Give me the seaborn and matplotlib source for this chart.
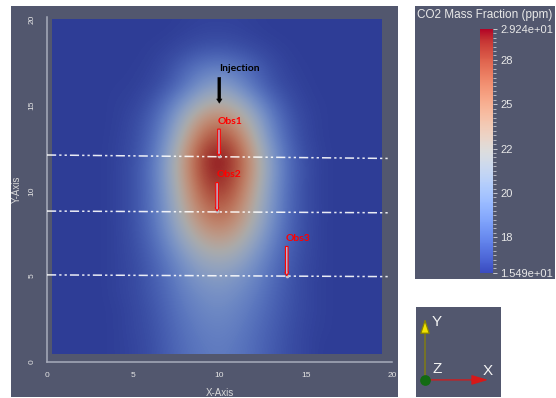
import numpy as np
import pandas as pd
import matplotlib
matplotlib.use("Agg")
import matplotlib.pyplot as plt
from matplotlib.colors import ListedColormap, Normalize
from matplotlib.patches import Rectangle, FancyArrowPatch
from matplotlib.ticker import MultipleLocator
import seaborn as sns

sns.set_theme(style="white")
plt.rcParams["font.family"] = ["Liberation Sans", "DejaVu Sans"]

# CO2 mass fraction (ppm), one row per y = 0..20,
# columns are x = 4..16 ; outside that strip the field sits at the background value
field_bg = 15.6
field_cols = np.arange(4, 17)
co2_rows = [
    [15.7, 15.9, 16.3, 16.9, 17.6, 18.1, 18.3, 18.0, 17.5, 16.8, 16.3, 15.9, 15.6],  # y=0
    [15.7, 15.9, 16.3, 17.0, 17.7, 18.2, 18.4, 18.1, 17.5, 16.9, 16.3, 15.9, 15.6],  # y=1
    [15.7, 16.0, 16.4, 17.1, 17.9, 18.5, 18.7, 18.4, 17.7, 17.0, 16.4, 15.9, 15.7],  # y=2
    [15.7, 16.0, 16.5, 17.3, 18.2, 18.85, 19.1, 18.7, 18.0, 17.2, 16.5, 16.0, 15.7],  # y=3
    [15.8, 16.1, 16.7, 17.5, 18.6, 19.3, 19.6, 19.2, 18.4, 17.4, 16.6, 16.0, 15.7],  # y=4
    [15.8, 16.1, 16.8, 17.8, 19.1, 20.1, 20.4, 19.9, 18.9, 17.7, 16.7, 16.0, 15.7],  # y=5
    [15.8, 16.2, 17.0, 18.3, 19.9, 21.3, 21.8, 21.2, 19.7, 18.1, 16.9, 16.1, 15.7],  # y=6
    [15.8, 16.3, 17.3, 19.0, 21.1, 22.9, 23.6, 22.8, 20.8, 18.7, 17.1, 16.2, 15.7],  # y=7
    [15.8, 16.4, 17.6, 19.6, 22.3, 24.6, 25.5, 24.4, 21.9, 19.3, 17.3, 16.2, 15.7],  # y=8
    [15.8, 16.4, 17.7, 20.0, 23.2, 25.9, 27.0, 25.6, 22.7, 19.7, 17.4, 16.3, 15.7],  # y=9
    [15.8, 16.4, 17.7, 20.3, 23.8, 27.0, 28.2, 26.6, 23.3, 19.9, 17.5, 16.2, 15.7],  # y=10
    [15.8, 16.4, 17.8, 20.6, 24.3, 27.8, 29.0, 27.3, 23.9, 20.2, 17.6, 16.3, 15.7],  # y=11
    [15.8, 16.3, 17.6, 20.4, 24.2, 27.9, 29.1, 27.4, 23.7, 20.0, 17.5, 16.2, 15.7],  # y=12
    [15.75, 16.2, 17.3, 19.6, 23.1, 26.4, 27.6, 26.0, 22.6, 19.2, 17.1, 16.0, 15.65],  # y=13
    [15.7, 16.1, 17.0, 18.9, 21.8, 24.5, 25.5, 24.1, 21.4, 18.6, 16.8, 15.95, 15.65],  # y=14
    [15.7, 15.85, 16.5, 17.9, 19.9, 21.9, 22.7, 21.7, 19.6, 17.6, 16.4, 15.8, 15.65],  # y=15
    [15.65, 15.7, 16.0, 16.7, 18.0, 19.6, 20.5, 19.3, 17.8, 16.6, 16.0, 15.7, 15.6],  # y=16
    [15.6, 15.65, 15.8, 16.3, 17.3, 18.2, 18.5, 18.0, 17.2, 16.3, 15.8, 15.65, 15.6],  # y=17
    [15.6, 15.6, 15.7, 15.9, 16.3, 16.7, 16.8, 16.6, 16.25, 15.9, 15.7, 15.6, 15.6],  # y=18
    [15.6, 15.6, 15.6, 15.65, 15.8, 15.95, 16.0, 15.9, 15.75, 15.65, 15.6, 15.6, 15.6],  # y=19
    [15.6, 15.6, 15.6, 15.6, 15.7, 15.8, 15.8, 15.8, 15.7, 15.6, 15.6, 15.6, 15.6],  # y=20
]
field_extent_x = [0.29, 19.4]
field_extent_y = [0.46, 19.9]

cmin, cmax = 15.49, 29.24
cbar_ticks = [17.5, 20, 22.5, 25, 27.5]
cbar_ticklabels = ["18", "20", "22", "25", "28"]

# dash-dot-dot section lines
cut_x = [0.0, 19.8]
cut_y_left = [12.0, 8.75, 5.05]
cut_y_right = [11.8, 8.65, 4.95]

# observation wells
obs_names = ["Obs1", "Obs2", "Obs3"]
obs_x = [9.97, 9.86, 13.9]
obs_top = [13.5, 10.4, 6.7]
obs_bottom = [11.95, 8.75, 5.0]

inj_x = 9.99
inj_top, inj_bottom = 16.5, 15.0

panel = (0.32, 0.34, 0.43)
W, H = 556, 398


def fbox(x0, y0, x1, y1):
    # pixel box -> figure fraction
    return [x0 / W, (H - y1) / H, (x1 - x0) / W, (y1 - y0) / H]


fig = plt.figure(figsize=(5.56, 3.98), dpi=100, facecolor="white")
for box in [fbox(11, 6, 398, 397), fbox(415, 6, 555, 279), fbox(416, 307, 501, 397)]:
    fig.add_artist(Rectangle((box[0], box[1]), box[2], box[3], transform=fig.transFigure,
                             facecolor=panel, edgecolor="none", zorder=-5))

ax = fig.add_axes(fbox(47, 17, 392, 362))
ax.set_facecolor("none")

Z = np.full((21, 21), field_bg)
Z[:, field_cols] = np.array(co2_rows)

base = plt.get_cmap("coolwarm")(np.linspace(0, 1, 256))
shaded = base.copy()
shaded[:, :3] *= 0.77
field_cmap = ListedColormap(shaded)
norm = Normalize(cmin, cmax)

im = ax.imshow(Z, origin="lower", extent=(-0.5, 20.5, -0.5, 20.5), cmap=field_cmap, norm=norm,
               interpolation="bicubic", aspect="auto", zorder=1)
clip = Rectangle((field_extent_x[0], field_extent_y[0]), field_extent_x[1] - field_extent_x[0],
                 field_extent_y[1] - field_extent_y[0], transform=ax.transData)
im.set_clip_path(clip)

lines = pd.DataFrame({
    "x": cut_x * 3,
    "y": [v for pair in zip(cut_y_left, cut_y_right) for v in pair],
    "line": ["a", "a", "b", "b", "c", "c"],
})
sns.lineplot(data=lines, x="x", y="y", style="line", estimator=None, color="white",
             dashes={"a": (6, 2, 1.5, 2, 1.5, 2), "b": (6, 2, 1.5, 2, 1.5, 2), "c": (6, 2, 1.5, 2, 1.5, 2)},
             lw=1.1, alpha=0.9, legend=False, ax=ax, zorder=3)

for name, x, top, bot in zip(obs_names, obs_x, obs_top, obs_bottom):
    ax.arrow(x, top, 0, bot - top, width=0.15, head_width=0.22, head_length=0.2,
             length_includes_head=True, fc="#b4b8d8", ec="red", lw=0.8, zorder=5)
    ax.text(x - 0.05, top + 0.45, name, color="red", fontsize=7.5, fontweight="bold",
            family=["Lato", "DejaVu Sans"], ha="left", va="center", zorder=6)
ax.scatter(obs_x, obs_bottom, s=7, color="#c0c0c8", zorder=4, linewidths=0)

ax.arrow(inj_x, inj_top, 0, inj_bottom - inj_top, width=0.17, head_width=0.32, head_length=0.25,
         length_includes_head=True, fc="black", ec="black", lw=0.3, zorder=5)
ax.text(inj_x - 0.03, inj_top + 0.5, "Injection", color="black", fontsize=7.5, fontweight="bold",
        family=["Lato", "DejaVu Sans"], ha="left", va="center", zorder=6)

ax.set_xlim(0, 20)
ax.set_ylim(0, 20)
ax.set_xticks([0, 5, 10, 15, 20])
ax.set_yticks([0, 5, 10, 15, 20])
axis_col = "#a8acbb"
for side in ["top", "right"]:
    ax.spines[side].set_visible(False)
for side in ["left", "bottom"]:
    ax.spines[side].set_color(axis_col)
    ax.spines[side].set_linewidth(1.1)
ax.tick_params(axis="both", direction="in", length=3.5, width=0.9, color=axis_col,
               labelcolor="#e4e4e4", labelsize=6)
ax.tick_params(axis="x", pad=7.5)
ax.tick_params(axis="y", pad=8.5, labelrotation=90)
ax.set_xlabel("X-Axis", color="#d8d8d8", fontsize=7)
ax.set_ylabel("Y-Axis", color="#d8d8d8", fontsize=7)
ax.xaxis.set_label_coords(0.5, -0.075)
ax.yaxis.set_label_coords(-0.073, 0.5)

# colour legend
cax = fig.add_axes(fbox(480, 29, 493, 273))
cb = fig.colorbar(plt.cm.ScalarMappable(norm=norm, cmap="coolwarm"), cax=cax)
cb.outline.set_visible(False)
cb.set_ticks(cbar_ticks + [cmin, cmax])
cb.set_ticklabels(cbar_ticklabels + ["1.549e+01", "2.924e+01"])
cax.yaxis.set_minor_locator(MultipleLocator(0.25))
cax.tick_params(which="major", length=3, width=0.7, color="#c8c8d0", labelcolor="#e8e8e8",
                labelsize=8, pad=2)
cax.tick_params(which="minor", length=2, width=0.6, color="#c8c8d0")
fig.text(417 / W, 1 - 15 / H, "CO2 Mass Fraction (ppm)", color="#e8e8e8", fontsize=8.5,
         ha="left", va="center")

# orientation axes glyph
ow = fig.add_axes(fbox(416, 307, 501, 397))
ow.set_xlim(0, 1)
ow.set_ylim(0, 1)
ow.axis("off")
ow.add_patch(FancyArrowPatch((0.106, 0.19), (0.106, 0.90), arrowstyle="-|>,head_width=0.3,head_length=0.9",
                             mutation_scale=10, color="#f2e400", lw=0.9, ec="#8a8400"))
ow.add_patch(FancyArrowPatch((0.106, 0.19), (0.88, 0.19), arrowstyle="-|>,head_width=0.3,head_length=1.0",
                             mutation_scale=10, color="#d81818", lw=0.9))
ow.scatter([0.106], [0.19], s=45, color="#136b13", zorder=5)
ow.text(0.19, 0.83, "Y", color="#f4f4f4", fontsize=11, ha="left", va="center")
ow.text(0.19, 0.31, "Z", color="#f4f4f4", fontsize=11, ha="left", va="center")
ow.text(0.78, 0.29, "X", color="#f4f4f4", fontsize=11, ha="left", va="center")

fig.savefig("out.png", dpi=100, facecolor="white")
